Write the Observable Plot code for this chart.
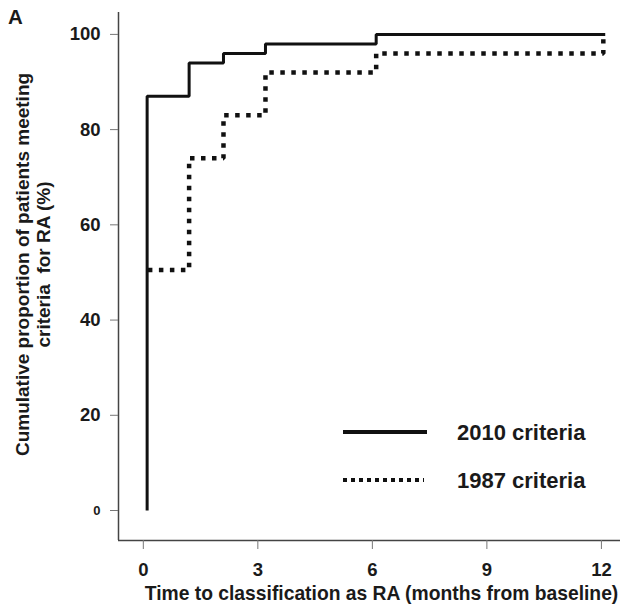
<!DOCTYPE html>
<html>
<head>
<meta charset="utf-8">
<script src="https://cdn.jsdelivr.net/npm/d3@7"></script>
<script src="https://cdn.jsdelivr.net/npm/@observablehq/plot@0.6"></script>
<style>
  html, body { margin: 0; padding: 0; background: #fff; }
  #chart { position: relative; width: 621px; height: 612px; }
  svg text { white-space: pre; }
</style>
</head>
<body>
<div id="chart"></div>
<script>
// Data
const months2010 = [0.1, 0.1, 1.2, 2.1, 3.2, 6.1, 12.1];
const pct2010    = [0,   87,  94,  96,  98,  100, 100];
const months1987 = [0.12, 1.2, 2.1, 3.2, 6.1, 12.05];
const pct1987    = [50.5, 74,  83,  92,  96,  99];
const xTicks = [0, 3, 6, 9, 12];
const yTicks = [0, 20, 40, 60, 80, 100];
const xDomain = [-0.65, 12.5];
const yDomain = [-6.3, 104.6];
const seriesNames = ["2010 criteria", "1987 criteria"];
const xLabel = "Time to classification as RA (months from baseline)";
const yLabel = "Cumulative proportion of patients meeting\ncriteria  for RA (%)";
const panelLabel = "A";

const s2010 = months2010.map((m, i) => ({month: m, pct: pct2010[i]}));
const s1987 = months1987.map((m, i) => ({month: m, pct: pct1987[i]}));

const FONT = "'Liberation Sans', Arial, Helvetica, sans-serif";
const TXT = "#1a1a1a";

const plot = Plot.plot({
  width: 621,
  height: 612,
  marginLeft: 118,
  marginRight: 1,
  marginTop: 12,
  marginBottom: 72,
  style: {fontFamily: FONT, background: "#fff", color: TXT, overflow: "visible"},
  x: {domain: xDomain},
  y: {domain: yDomain},
  marks: [
    Plot.ruleX([xDomain[0]], {stroke: "#444", strokeWidth: 1.5}),
    Plot.ruleY([yDomain[0]], {stroke: "#444", strokeWidth: 1.5}),
    Plot.axisY({ticks: yTicks, tickSize: 8, tickPadding: 10, fontSize: 18.5, fontWeight: "bold",
                stroke: "#777", color: TXT, label: null}),
    Plot.axisX({ticks: xTicks, tickSize: 9, tickPadding: 13, fontSize: 18.5, fontWeight: "bold",
                stroke: "#777", color: TXT, label: null}),
    Plot.line(s1987, {x: "month", y: "pct", curve: "step-after", stroke: "#111",
                      strokeWidth: 4.5, strokeDasharray: "4.5,6.5", strokeLinecap: "butt",
                      strokeLinejoin: "miter"}),
    Plot.line(s2010, {x: "month", y: "pct", curve: "step-after", stroke: "#111",
                      strokeWidth: 3, strokeLinecap: "butt", strokeLinejoin: "miter"}),
    Plot.text([xLabel], {text: d => d, frameAnchor: "bottom", textAnchor: "middle", dx: 12, dy: 59,
                         fontSize: 19.3, fontWeight: "bold", fill: TXT}),
    Plot.text([yLabel], {text: d => d, frameAnchor: "left", textAnchor: "middle", rotate: -90,
                         dx: -85.5, dy: -12, lineHeight: 1.12, fontSize: 19, fontWeight: "bold", fill: TXT})
  ]
});

document.getElementById("chart").appendChild(plot);

// Smaller "0" on the y axis as in the reference
const svg = d3.select(plot);
svg.selectAll("g[aria-label='y-axis tick label'] text").each(function() {
  if (this.textContent.trim() === "0") d3.select(this).attr("font-size", 13);
});

// Panel label
svg.append("text").attr("x", 8).attr("y", 24).attr("text-anchor", "start")
  .attr("font-family", FONT).attr("font-weight", "bold").attr("font-size", 20.5)
  .attr("fill", TXT).text(panelLabel);

// Legend
const lg = svg.append("g").attr("font-family", FONT).attr("text-anchor", "start");
lg.append("line").attr("x1", 343).attr("x2", 427).attr("y1", 432).attr("y2", 432)
  .attr("stroke", "#111").attr("stroke-width", 4);
lg.append("line").attr("x1", 343).attr("x2", 424).attr("y1", 480).attr("y2", 480)
  .attr("stroke", "#111").attr("stroke-width", 4).attr("stroke-dasharray", "4,4");
lg.append("text").attr("x", 457).attr("y", 440).attr("font-size", 22).attr("font-weight", "bold")
  .attr("fill", TXT).text(seriesNames[0]);
lg.append("text").attr("x", 457).attr("y", 488).attr("font-size", 22).attr("font-weight", "bold")
  .attr("fill", TXT).text(seriesNames[1]);
</script>
</body>
</html>
